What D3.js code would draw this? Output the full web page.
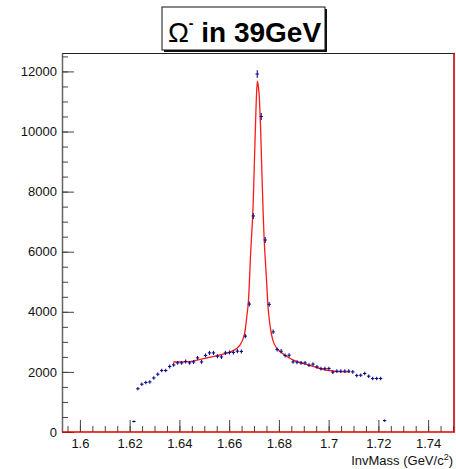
<!DOCTYPE html>
<html>
<head>
<meta charset="utf-8">
<script src="https://cdn.jsdelivr.net/npm/d3@7"></script>
<style>
  body { margin: 0; background: #fff; }
  svg { display: block; font-family: "Liberation Sans", Arial, sans-serif; }
</style>
</head>
<body>
<div id="chart"></div>
<script>
// histogram bins: first centre and width (GeV/c^2), then counts per bin
const binStart = 1.6217;
const binWidth = 0.0016;
const counts = [
    350, 1440, 1590, 1647, 1667, 1800, 1923, 2047, 2047, 2180,
    2233, 2300, 2300, 2347, 2300, 2330, 2467, 2333, 2547, 2633,
    2633, 2523, 2500, 2633, 2647, 2647, 2690, 2680, 3190, 4257,
    7190, 11913, 10500, 6390, 4247, 3333, 2747, 2690, 2547, 2557,
    2333, 2323, 2300, 2300, 2223, 2257, 2167, 2113, 2113, 2113,
    1990, 2023, 2023, 2023, 2023, 2000, 1880, 1890, 1947, 1857,
    1780, 1780, 1780, 380
];

// fit curve
const fitX = [1.6375, 1.6449, 1.6496, 1.6563, 1.6603, 1.6630, 1.6644, 1.6660, 1.6671, 1.6677,
    1.6687, 1.6695, 1.6703, 1.6711, 1.6714, 1.6720, 1.6727, 1.6733, 1.6741, 1.6751,
    1.6757, 1.6767, 1.6778, 1.6791, 1.6805, 1.6858, 1.6925, 1.6979, 1.7033, 1.7086];
const fitY = [2330, 2350, 2440, 2570, 2660, 2780, 2900, 3200, 3850, 4300,
    6050, 7250, 9400, 11400, 11680, 11280, 9950, 8280, 6390, 4950,
    4100, 3400, 3000, 2790, 2670, 2390, 2220, 2080, 2020, 2000];

const xMajor = [1.6, 1.62, 1.64, 1.66, 1.68, 1.7, 1.72, 1.74];
const xLabels = ["1.6", "1.62", "1.64", "1.66", "1.68", "1.7", "1.72", "1.74"];
const yMajor = [0, 2000, 4000, 6000, 8000, 10000, 12000];

const width = 456, height = 469;
const frameLeft = 62, frameRight = 455, frameTop = 53, frameBottom = 432;

const svg = d3.select("#chart").append("svg")
    .attr("width", width)
    .attr("height", height);

const x = d3.scaleLinear().domain([1.5928, 1.7508]).range([frameLeft, frameRight]);
const y = d3.scaleLinear().domain([0, 12613]).range([frameBottom, frameTop]);

const xMinor = d3.range(1.595, 1.751, 0.005).map(v => +v.toFixed(3));
const yMinor = d3.range(0, 12501, 500);

// frame
svg.append("line").attr("x1", frameLeft).attr("x2", frameRight).attr("y1", frameTop + 0.5).attr("y2", frameTop + 0.5)
    .attr("stroke", "#222").attr("stroke-width", 1.2);

// y axis
svg.append("g")
    .attr("transform", "translate(" + frameLeft + ",0)")
    .call(d3.axisLeft(y).tickValues(yMinor).tickSizeInner(-6).tickSizeOuter(0).tickFormat(""))
    .call(g => g.selectAll("line").attr("stroke", "#444"))
    .call(g => g.select(".domain").attr("stroke", "#666").attr("stroke-width", 1.5));

svg.append("g")
    .attr("transform", "translate(" + frameLeft + ",0)")
    .call(d3.axisLeft(y).tickValues(yMajor).tickSizeInner(-12).tickSizeOuter(0).tickPadding(5)
        .tickFormat(d => String(d)))
    .call(g => g.select(".domain").remove())
    .call(g => g.selectAll("line").attr("stroke", "#444"))
    .call(g => g.selectAll("text").attr("font-size", "13px").attr("fill", "#111")
        .attr("font-family", "Liberation Sans, Arial, sans-serif"));

// x axis
svg.append("g")
    .attr("transform", "translate(0," + frameBottom + ")")
    .call(d3.axisBottom(x).tickValues(xMinor).tickSizeInner(-6).tickSizeOuter(0).tickFormat(""))
    .call(g => g.selectAll("line").attr("stroke", "#444"))
    .call(g => g.select(".domain").remove());

svg.append("g")
    .attr("transform", "translate(0," + frameBottom + ")")
    .call(d3.axisBottom(x).tickValues(xMajor).tickSizeInner(-12).tickSizeOuter(0).tickPadding(7)
        .tickFormat((d, i) => xLabels[i]))
    .call(g => g.select(".domain").remove())
    .call(g => g.selectAll("line").attr("stroke", "#444"))
    .call(g => g.selectAll("text").attr("font-size", "13px").attr("fill", "#111")
        .attr("font-family", "Liberation Sans, Arial, sans-serif"));

// red lines along bottom and right edge
svg.append("line").attr("x1", frameLeft).attr("x2", frameRight).attr("y1", frameBottom).attr("y2", frameBottom)
    .attr("stroke", "#e00000").attr("stroke-width", 1.6);
svg.append("line").attr("x1", frameRight - 1).attr("x2", frameRight - 1).attr("y1", frameTop).attr("y2", frameBottom)
    .attr("stroke", "#d00000").attr("stroke-width", 1.6);

// fit curve
const fitPts = fitX.map((v, i) => [v, fitY[i]]);
svg.append("path")
    .datum(fitPts)
    .attr("fill", "none")
    .attr("stroke", "#ff1a1a")
    .attr("stroke-width", 1.3)
    .attr("d", d3.line().x(d => x(d[0])).y(d => y(d[1])).curve(d3.curveCatmullRom.alpha(0.5)));

// data points with error bars
const bins = counts.map((c, i) => ({ c: binStart + i * binWidth, n: c }));
const pts = svg.append("g").attr("stroke", "#10108c").attr("stroke-width", 1.1);
pts.selectAll(".h").data(bins).enter().append("line")
    .attr("x1", d => x(d.c - binWidth / 2) + 0.3)
    .attr("x2", d => x(d.c + binWidth / 2) - 0.3)
    .attr("y1", d => y(d.n)).attr("y2", d => y(d.n));
pts.selectAll(".v").data(bins).enter().append("line")
    .attr("x1", d => x(d.c)).attr("x2", d => x(d.c))
    .attr("y1", d => y(d.n - Math.sqrt(d.n)) + 0.5)
    .attr("y2", d => y(d.n + Math.sqrt(d.n)) - 0.5);

// axis title
svg.append("text")
    .attr("x", 453).attr("y", 465)
    .attr("text-anchor", "end")
    .attr("font-size", "13px")
    .attr("fill", "#111")
    .html('InvMass (GeV/c<tspan dy="-5" font-size="9px">2</tspan><tspan dy="5">)</tspan>');

// title box
const tb = { x: 162, y: 7, w: 163, h: 43 };
svg.append("rect").attr("x", tb.x + 2).attr("y", tb.y + 2).attr("width", tb.w).attr("height", tb.h)
    .attr("fill", "#111");
svg.append("rect").attr("x", tb.x).attr("y", tb.y).attr("width", tb.w).attr("height", tb.h)
    .attr("fill", "#fff").attr("stroke", "#111").attr("stroke-width", 1);
const title = svg.append("text")
    .attr("x", tb.x + tb.w / 2 + 1).attr("y", 42)
    .attr("text-anchor", "middle")
    .attr("font-size", "28px")
    .attr("fill", "#000");
title.append("tspan").attr("font-weight", "normal").text("Ω");
title.append("tspan").attr("font-size", "14px").attr("dy", "-14").attr("font-weight", "bold").text("-");
title.append("tspan").attr("dy", "14").attr("font-weight", "bold").text(" in 39GeV");
</script>
</body>
</html>
